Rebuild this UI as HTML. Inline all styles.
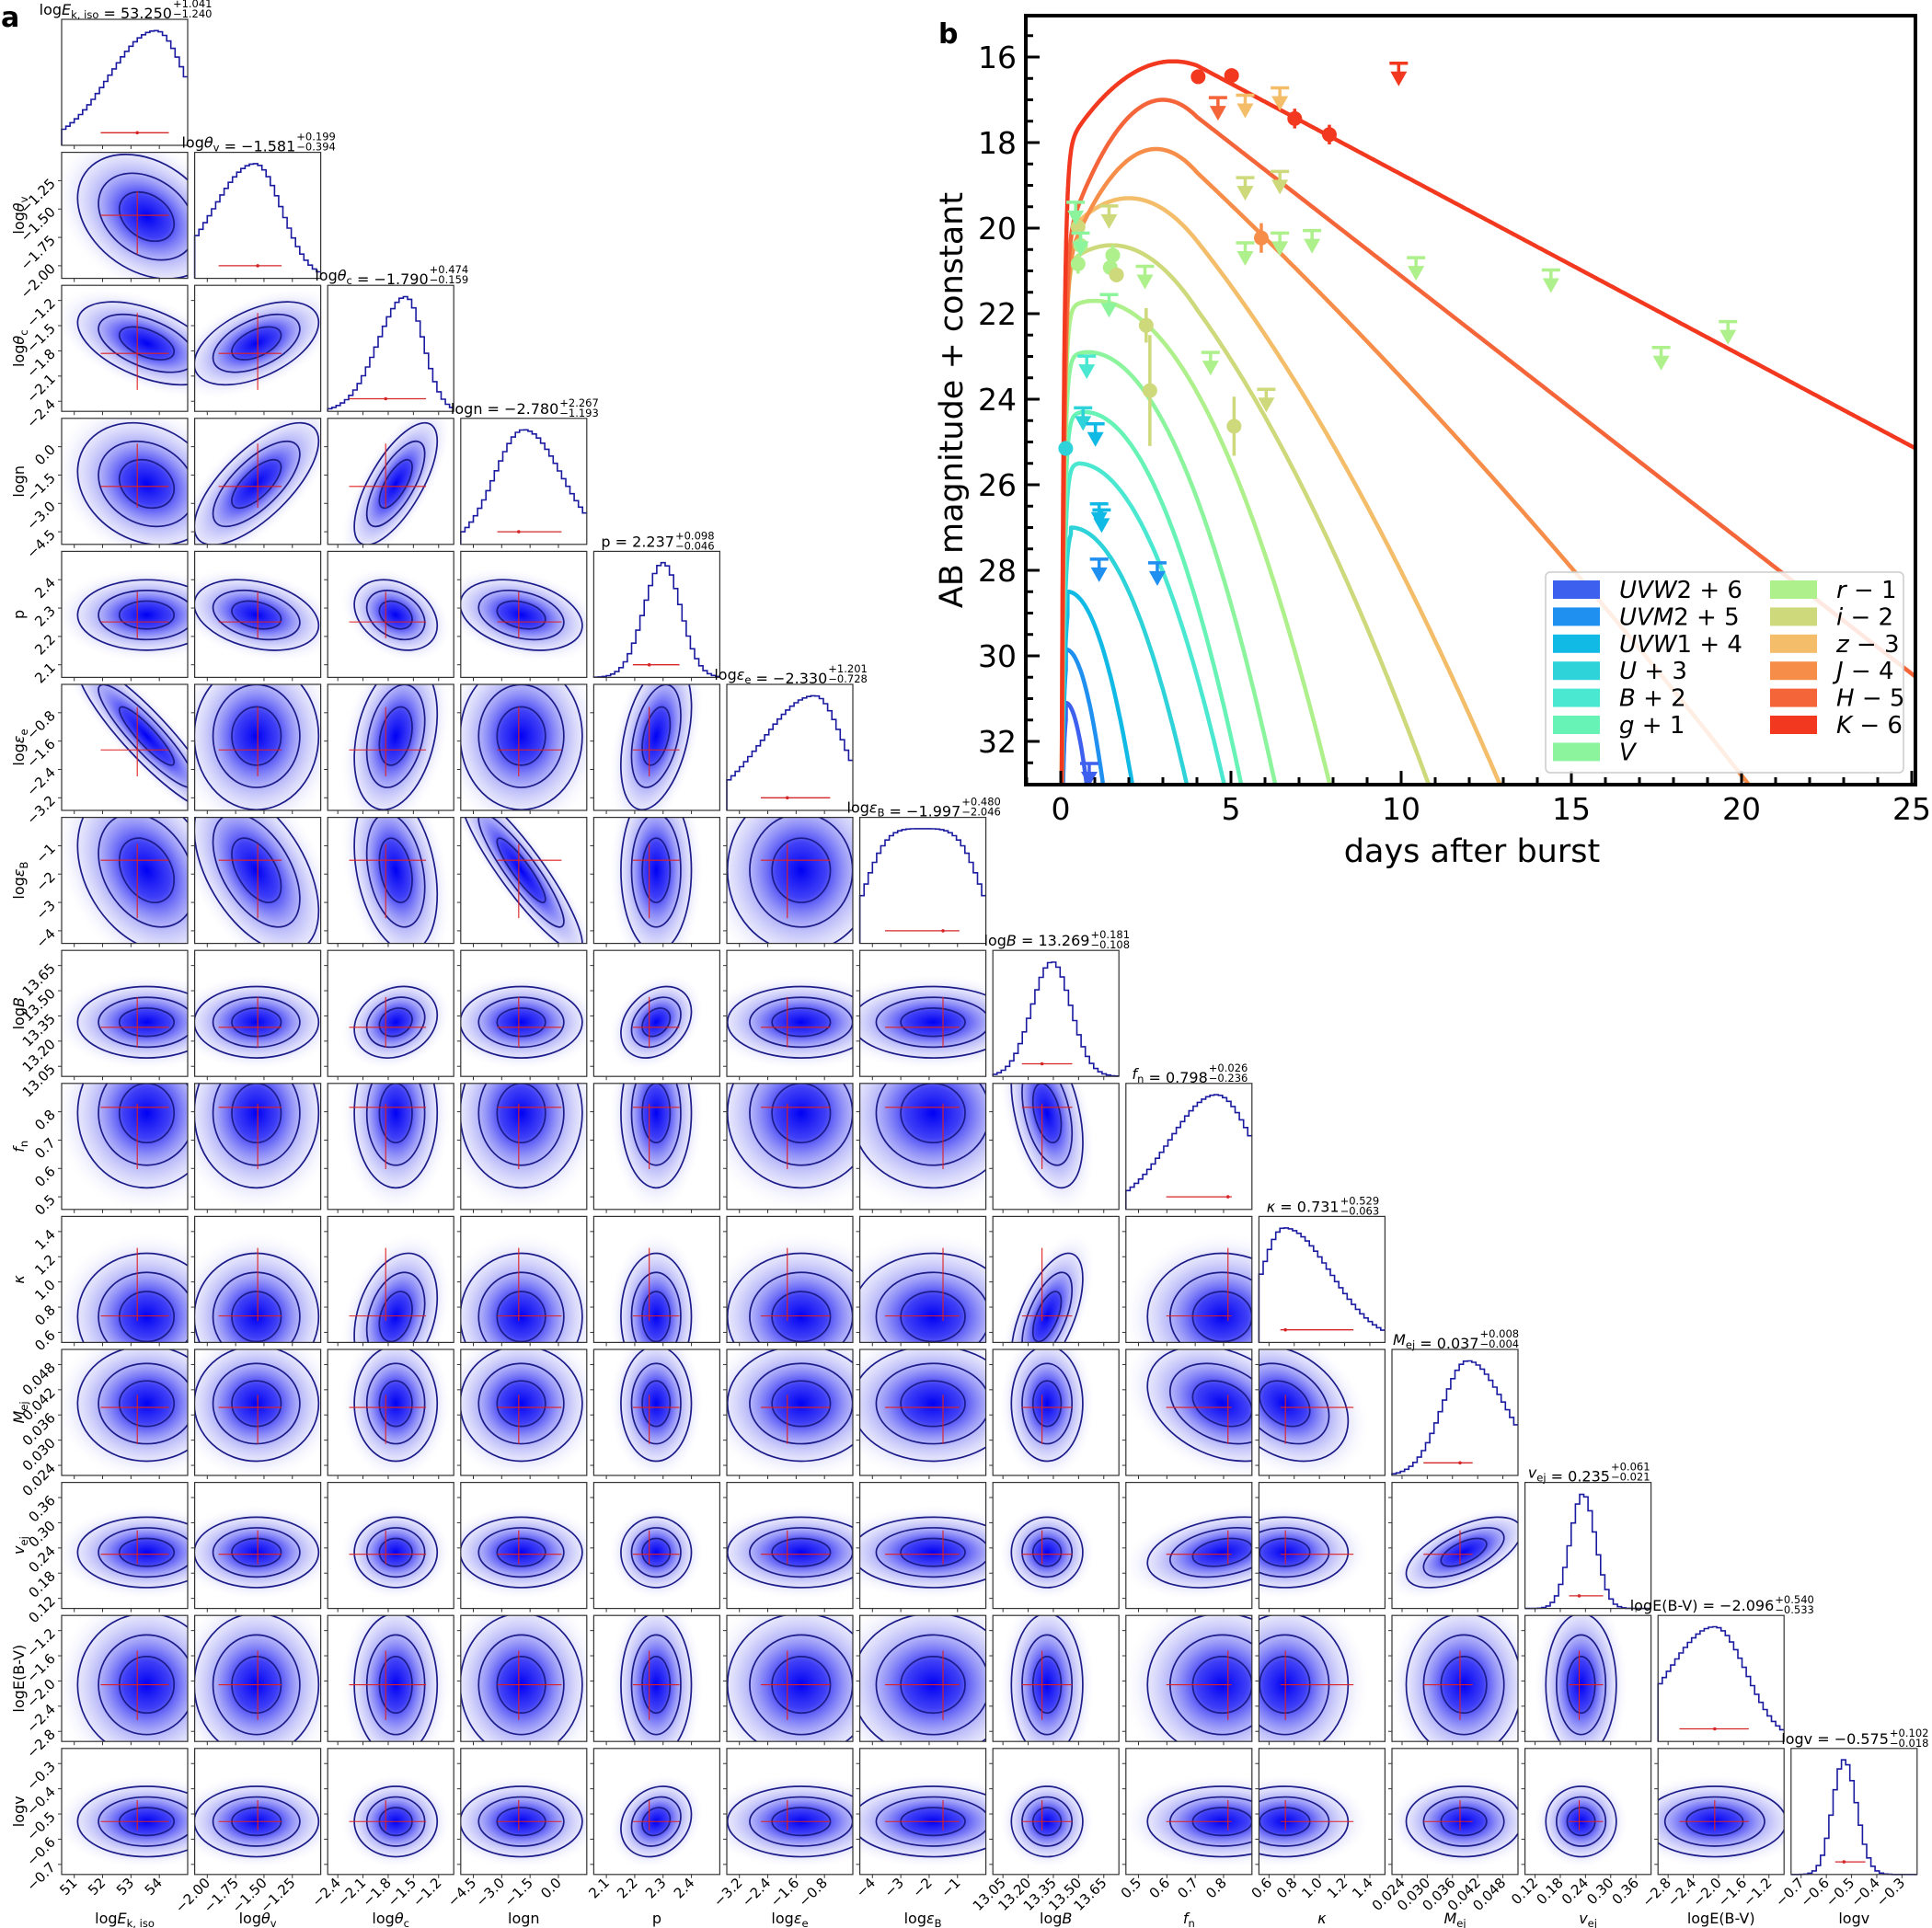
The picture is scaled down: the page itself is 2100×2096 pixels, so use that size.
<!DOCTYPE html>
<html><head><meta charset="utf-8"><style>body{margin:0;background:#fff}svg{display:block}</style></head><body>
<div id="root"></div>
<script>
let o='<defs><radialGradient id="g"><stop offset="0" stop-color="#0000f5" stop-opacity="1"/><stop offset="0.25" stop-color="#2a2af5" stop-opacity="0.9"/><stop offset="0.5" stop-color="#7a7af5" stop-opacity="0.6"/><stop offset="0.75" stop-color="#c0c0f8" stop-opacity="0.35"/><stop offset="1" stop-color="#ffffff" stop-opacity="0"/></radialGradient></defs>';
const L=67,T=21,P=144.6,W=137;
const sub=(t)=>'<tspan dy="4" font-size="0.72em">'+t+'</tspan><tspan dy="-4"></tspan>';
const pars=[
{lab:'log<tspan font-style="italic">E</tspan>'+sub('k, iso'),v:'53.250',p:'+1.041',m:'−1.240',mu:.75,sL:.37,sR:.23,med:.60,lo:.31,hi:.85,t:['51','52','53','54']},
{lab:'log<tspan font-style="italic">θ</tspan>'+sub('v'),v:'−1.581',p:'+0.199',m:'−0.394',mu:.48,sL:.33,sR:.21,med:.5,lo:.19,hi:.69,t:['−2.00','−1.75','−1.50','−1.25']},
{lab:'log<tspan font-style="italic">θ</tspan>'+sub('c'),v:'−1.790',p:'+0.474',m:'−0.159',mu:.62,sL:.22,sR:.14,med:.46,lo:.17,hi:.78,t:['−2.4','−2.1','−1.8','−1.5','−1.2']},
{lab:'logn',v:'−2.780',p:'+2.267',m:'−1.193',mu:.5,sL:.23,sR:.3,med:.46,lo:.29,hi:.8,t:['−4.5','−3.0','−1.5','0.0']},
{lab:'p',v:'2.237',p:'+0.098',m:'−0.046',mu:.55,sL:.15,sR:.14,med:.44,lo:.31,hi:.68,t:['2.1','2.2','2.3','2.4']},
{lab:'log<tspan font-style="italic">ε</tspan>'+sub('e'),v:'−2.330',p:'+1.201',m:'−0.728',mu:.7,sL:.42,sR:.22,med:.48,lo:.27,hi:.82,t:['−3.2','−2.4','−1.6','−0.8']},
{lab:'log<tspan font-style="italic">ε</tspan>'+sub('B'),v:'−1.997',p:'+0.480',m:'−2.046',mu:.5,sL:.42,sR:.42,pw:4,med:.66,lo:.2,hi:.79,t:['−4','−3','−2','−1']},
{lab:'log<tspan font-style="italic">B</tspan>',v:'13.269',p:'+0.181',m:'−0.108',mu:.47,sL:.16,sR:.15,med:.39,lo:.23,hi:.63,t:['13.05','13.20','13.35','13.50','13.65']},
{lab:'<tspan font-style="italic">f</tspan>'+sub('n'),v:'0.798',p:'+0.026',m:'−0.236',mu:.72,sL:.37,sR:.28,med:.81,lo:.32,hi:.84,t:['0.5','0.6','0.7','0.8']},
{lab:'<tspan font-style="italic">κ</tspan>',v:'0.731',p:'+0.529',m:'−0.063',mu:.2,sL:.18,sR:.37,med:.21,lo:.17,hi:.75,t:['0.6','0.8','1.0','1.2','1.4']},
{lab:'<tspan font-style="italic">M</tspan>'+sub('ej'),v:'0.037',p:'+0.008',m:'−0.004',mu:.6,sL:.2,sR:.3,med:.54,lo:.25,hi:.64,t:['0.024','0.030','0.036','0.042','0.048']},
{lab:'<tspan font-style="italic">v</tspan>'+sub('ej'),v:'0.235',p:'+0.061',m:'−0.021',mu:.46,sL:.1,sR:.1,med:.43,lo:.35,hi:.62,t:['0.12','0.18','0.24','0.30','0.36']},
{lab:'logE(B-V)',v:'−2.096',p:'+0.540',m:'−0.533',mu:.45,sL:.37,sR:.25,med:.45,lo:.17,hi:.72,t:['−2.8','−2.4','−2.0','−1.6','−1.2']},
{lab:'logv',v:'−0.575',p:'+0.102',m:'−0.018',mu:.42,sL:.09,sR:.1,med:.42,lo:.35,hi:.59,t:['−0.7','−0.6','−0.5','−0.4','−0.3']}
];
const rho={'1,0':-.3,'2,0':-.5,'2,1':.5,'3,0':-.2,'3,1':.7,'3,2':.7,'4,1':-.3,'4,2':-.3,'4,3':-.3,'5,0':-.9,'5,2':.3,'5,4':.4,'6,0':-.3,'6,1':-.5,'6,2':-.3,'6,3':-.9,'7,2':.2,'7,4':.3,'8,7':-.4,'9,2':.3,'9,7':.6,'10,8':-.3,'10,9':-.3,'11,8':.3,'11,10':.6,'13,4':.2};
function tf(n,k){return n==4?.1+k*.225:.08+k*.2;}
const N=14;
for(let i=0;i<N;i++){
 const y0=T+i*P;
 for(let j=0;j<=i;j++){
  const x0=L+j*P;
  if(i==j){
   const q=pars[i];let d='M'+x0+','+(y0+W);
   for(let k=0;k<30;k++){const xc=(k+.5)/30;const z=(xc-q.mu)/(xc<q.mu?q.sL:q.sR);const h=Math.exp(-.5*Math.pow(Math.abs(z),q.pw||2));const yy=y0+W-0.91*W*h;d+=' V'+yy.toFixed(1)+' H'+(x0+(k+1)/30*W).toFixed(1);}
   o+='<path d="'+d+'" fill="none" stroke="#1a1aa0" stroke-width="1.6"/>';
   const ey=y0+0.9*W;
   o+='<line x1="'+(x0+q.lo*W)+'" y1="'+ey+'" x2="'+(x0+q.hi*W)+'" y2="'+ey+'" stroke="#d62728" stroke-width="1.3"/><circle cx="'+(x0+q.med*W)+'" cy="'+ey+'" r="1.8" fill="#d62728"/>';
   o+='<text id="tt'+i+'" x="'+(x0+W/2)+'" y="'+(y0-5)+'" font-size="16">'+q.lab+' = '+q.v+'</text>';
   o+='<text id="tp'+i+'" x="0" y="'+(y0-13)+'" font-size="11.5">'+q.p+'</text><text id="tm'+i+'" x="0" y="'+(y0-2)+'" font-size="11.5">'+q.m+'</text>';
  } else {
   const a=pars[j],b=pars[i];
   o+='<clipPath id="c'+i+'_'+j+'"><rect x="'+x0+'" y="'+y0+'" width="'+W+'" height="'+W+'"/></clipPath><g clip-path="url(#c'+i+'_'+j+')">';
   const sx=Math.max(.13,Math.min(.3,(a.sL+a.sR)/2*.85))*W, sy=Math.max(.13,Math.min(.3,(b.sL+b.sR)/2*.85))*W;
   const r=rho[i+','+j]||0;
   const A=sx*sx,C=sy*sy,B=-r*sx*sy;
   const th=0.5*Math.atan2(2*B,A-C)*180/Math.PI;
   const m=(A+C)/2,dd=Math.sqrt(((A-C)/2)**2+B*B);
   const rx=Math.sqrt(m+dd),ry=Math.sqrt(Math.max(m-dd,4));
   const cx=x0+(a.mu+a.med)/2*W, cy=y0+(1-(b.mu+b.med)/2)*W;
   o+='<g transform="translate('+cx+','+cy+') rotate('+th+')">';
   o+='<ellipse rx="'+(rx*2.9)+'" ry="'+(ry*2.9)+'" fill="url(#g)"/>';
   for(const k of [0.85,1.5,2.15]) o+='<ellipse rx="'+(rx*k)+'" ry="'+(ry*k)+'" fill="none" stroke="#1c1c8a" stroke-width="1.7"/>';
   o+='</g>';
   const mx=x0+a.med*W,my=y0+(1-b.med)*W;
   o+='<line x1="'+(x0+a.lo*W)+'" y1="'+my+'" x2="'+(x0+a.hi*W)+'" y2="'+my+'" stroke="#e02020" stroke-width="1.1"/>';
   o+='<line x1="'+mx+'" y1="'+(y0+(1-b.hi)*W)+'" x2="'+mx+'" y2="'+(y0+(1-b.lo)*W)+'" stroke="#e02020" stroke-width="1.1"/>';
   o+='</g>';
   b.t.forEach((_,k)=>{const yy=y0+(1-tf(b.t.length,k))*W;o+='<line x1="'+(x0-4)+'" y1="'+yy+'" x2="'+x0+'" y2="'+yy+'" stroke="#333"/>';});
  }
  o+='<rect x="'+x0+'" y="'+y0+'" width="'+W+'" height="'+W+'" fill="none" stroke="#333" stroke-width="1.2"/>';
  const a=pars[j];
  a.t.forEach((_,k)=>{const xx=x0+tf(a.t.length,k)*W;o+='<line x1="'+xx+'" y1="'+(y0+W)+'" x2="'+xx+'" y2="'+(y0+W+4)+'" stroke="#333"/>';});
 }
}
for(let i=1;i<N;i++){const y0=T+i*P,q=pars[i];
 q.t.forEach((t,k)=>{const yy=y0+(1-tf(q.t.length,k))*W;o+='<text transform="translate('+(L-6)+','+(yy+4)+') rotate(-45)" text-anchor="end" font-size="15">'+t+'</text>';});
 o+='<text transform="translate(26,'+(y0+W/2)+') rotate(-90)" text-anchor="middle" font-size="16">'+q.lab+'</text>';
}
const yb=T+13*P+W;
for(let j=0;j<N;j++){const x0=L+j*P,q=pars[j];
 q.t.forEach((t,k)=>{const xx=x0+tf(q.t.length,k)*W;o+='<text transform="translate('+(xx+4)+','+(yb+10)+') rotate(-45)" text-anchor="end" font-size="15">'+t+'</text>';});
 o+='<text x="'+(x0+W/2)+'" y="'+(yb+53)+'" text-anchor="middle" font-size="16">'+q.lab+'</text>';
}
o+='<text x="1" y="29" font-size="30" font-weight="bold">a</text><text x="1020" y="47" font-size="30" font-weight="bold">b</text>';

const X=t=>1153+37*t, Y=m=>62+46.5*(m-16);
const ax0=1115,ay0=17,ax1=2082,ay1=853;
o+='<clipPath id="cb"><rect x="'+ax0+'" y="'+ay0+'" width="'+(ax1-ax0)+'" height="'+(ay1-ay0)+'"/></clipPath><g clip-path="url(#cb)">';
const C={K:'#f2381f',H:'#f5653a',J:'#f68e4a',z:'#f3bd69',i:'#cdd97b',r:'#aef08b',V:'#8df49e',g:'#67f3b5',B:'#4ae8d0',U:'#2dd3d8',W1:'#11b9e5',M2:'#1f8ff0',W2:'#3e60ef'};
function qb(P,tp,tb){return (33-P)/((tb-tp)**2);}
const curves=[
{c:C.W2,P:31.1,tp:.15,b:qb(31.1,.15,.76)},
{c:C.M2,P:29.85,tp:.15,b:qb(29.85,.15,1.24)},
{c:C.W1,P:28.5,tp:.2,b:qb(28.5,.2,2.1)},
{c:C.U,P:27.0,tp:.3,b:qb(27,.3,3.7)},
{c:C.B,P:25.5,tp:.5,b:qb(25.5,.5,4.8)},
{c:C.g,P:24.3,tp:.7,b:qb(24.3,.7,5.3)},
{c:C.V,P:22.9,tp:.8,b:qb(22.9,.8,6.3)},
{c:C.r,P:21.7,tp:1.0,b:qb(21.7,1.0,7.9)},
{c:C.i,P:20.4,tp:1.5,b:.24,tk:4,s:1.1,cc:.078},
{c:C.z,P:19.3,tp:2.0,b:.25,tk:4,s:1.0,cc:.048},
{c:C.J,P:18.15,tp:2.8,b:.38,tk:4,s:.75,cc:.0082},
{c:C.H,P:17.0,tp:3.0,b:.4,tk:4,s:.62,cc:0},
{c:C.K,P:16.1,tp:3.3,b:.2,tk:4,s:.424,cc:0}
];
for(const c of curves){
 let d='';
 const tau=Math.min(0.07,c.tp*0.35);
 for(let t=0;t<=25.5;t+=(t<0.4?0.004:0.03)){
  let m;
  if(t<=c.tp) m=c.P+c.b*(t-c.tp)**2+(38-c.P)*Math.exp(-t/tau);
  else if(!c.tk||t<=c.tk) m=c.P+c.b*(t-c.tp)**2;
  else {const mk=c.P+c.b*(c.tk-c.tp)**2;m=mk+c.s*(t-c.tk)+c.cc*(t-c.tk)**2;}
  if(m>36){ if(t>c.tp) {d+=(d?'L':'M')+X(t).toFixed(1)+','+Y(36).toFixed(1);break;} else m=36;}
  d+=(d?'L':'M')+X(t).toFixed(1)+','+Y(m).toFixed(1);
 }
 o+='<path d="'+d+'" fill="none" stroke="'+c.c+'" stroke-width="4.5" stroke-linejoin="round"/>';
}
const DX=xd=>1153+1.3455*(xd-866), DY=yd=>62+1.338*(yd-47);
const circ=[[977,63,0,C.K],[1004,62,0,C.K],[1055,97,8,C.K],[1083,110,8,C.K],[1028,194,12,C.J],[935,265,14,C.i],[938,318,45,C.i],[1006,347,24,C.i],[880,185,6,C.i],[882,200,8,C.r],[880,215,8,C.r],[908,208,8,C.r],[906,218,6,C.r],[911,224,6,C.i],[870,365,6,C.U]];
for(const [x,y,e,c] of circ){const X0=DX(x),Y0=DY(y);if(e)o+='<line x1="'+X0+'" y1="'+(Y0-e*1.34)+'" x2="'+X0+'" y2="'+(Y0+e*1.34)+'" stroke="'+c+'" stroke-width="3.5"/>';o+='<circle cx="'+X0+'" cy="'+Y0+'" r="8" fill="'+c+'"/>';}
const arr=[[993,80,C.H],[1015,78,C.z],[1043,72,C.z],[1139,52,C.K],[1015,145,C.i],[1043,140,C.i],[1015,198,C.r],[1043,190,C.r],[1069,188,C.r],[1153,210,C.r],[1262,220,C.r],[1351,283,C.r],[1405,262,C.r],[905,168,C.i],[878,165,C.V],[882,190,C.V],[934,217,C.r],[905,240,C.V],[987,287,C.r],[1032,317,C.i],[887,290,C.B],[884,332,C.U],[894,345,C.W1],[897,410,C.W1],[899,415,C.W1],[897,455,C.M2],[944,458,C.M2],[889,621,C.W2]];
for(const [x,y,c] of arr){const X0=DX(x),Y0=DY(y);o+='<line x1="'+(X0-10)+'" y1="'+Y0+'" x2="'+(X0+10)+'" y2="'+Y0+'" stroke="'+c+'" stroke-width="3.5"/><line x1="'+X0+'" y1="'+Y0+'" x2="'+X0+'" y2="'+(Y0+12)+'" stroke="'+c+'" stroke-width="3.5"/><path d="M'+(X0-9)+','+(Y0+9)+' L'+(X0+9)+','+(Y0+9)+' L'+X0+','+(Y0+25)+' Z" fill="'+c+'"/>';}
o+='</g>';
o+='<rect x="'+ax0+'" y="'+ay0+'" width="'+(ax1-ax0)+'" height="'+(ay1-ay0)+'" fill="none" stroke="#000" stroke-width="4"/>';
for(let m=15.5;m<=33;m+=0.5){const yy=Y(m);const maj=Math.abs(m/2-Math.round(m/2))<1e-6;o+='<line x1="'+ax0+'" y1="'+yy+'" x2="'+(ax0+(maj?15:8))+'" y2="'+yy+'" stroke="#000" stroke-width="3"/>';if(maj&&m>=16&&m<=32)o+='<text x="1105" y="'+(yy+12)+'" text-anchor="end" font-size="33">'+m+'</text>';}
for(let t=-1;t<=25;t++){const xx=X(t);if(xx<ax0)continue;const maj=t%5==0;o+='<line x1="'+xx+'" y1="'+ay1+'" x2="'+xx+'" y2="'+(ay1-(maj?15:8))+'" stroke="#000" stroke-width="3"/>';if(maj)o+='<text x="'+xx+'" y="'+(ay1+38)+'" text-anchor="middle" font-size="33">'+t+'</text>';}
o+='<text x="1600" y="937" text-anchor="middle" font-size="35">days after burst</text>';
o+='<text transform="translate(1046,435) rotate(-90)" text-anchor="middle" font-size="35">AB magnitude + constant</text>';
o+='<rect x="1680" y="622" width="389" height="218" rx="5" fill="#fff" fill-opacity="0.85" stroke="#ccc" stroke-width="1.5"/>';
const leg1=[[C.W2,'<tspan font-style="italic">UVW</tspan>2 + 6'],[C.M2,'<tspan font-style="italic">UVM</tspan>2 + 5'],[C.W1,'<tspan font-style="italic">UVW</tspan>1 + 4'],[C.U,'<tspan font-style="italic">U</tspan> + 3'],[C.B,'<tspan font-style="italic">B</tspan> + 2'],[C.g,'<tspan font-style="italic">g</tspan> + 1'],[C.V,'<tspan font-style="italic">V</tspan>']];
const leg2=[[C.r,'<tspan font-style="italic">r</tspan> − 1'],[C.i,'<tspan font-style="italic">i</tspan> − 2'],[C.z,'<tspan font-style="italic">z</tspan> − 3'],[C.J,'<tspan font-style="italic">J</tspan> − 4'],[C.H,'<tspan font-style="italic">H</tspan> − 5'],[C.K,'<tspan font-style="italic">K</tspan> − 6']];
leg1.forEach(([c,t],k)=>{const yy=641+29.4*k;o+='<rect x="1688" y="'+(yy-10)+'" width="51" height="20" fill="'+c+'"/><text x="1760" y="'+(yy+9)+'" font-size="26">'+t+'</text>';});
leg2.forEach(([c,t],k)=>{const yy=641+29.4*k;o+='<rect x="1924" y="'+(yy-10)+'" width="51" height="20" fill="'+c+'"/><text x="1996" y="'+(yy+9)+'" font-size="26">'+t+'</text>';});
document.getElementById('root').innerHTML='<svg id="s" width="2100" height="2096" xmlns="http://www.w3.org/2000/svg" font-family="\'DejaVu Sans\',\'Liberation Sans\',sans-serif">'+o+'</svg>';
for(let i=0;i<N;i++){
 const el=document.getElementById('tt'+i);let w=0;try{w=el.getComputedTextLength();}catch(e){}
 if(!w) w=150;
 const q=pars[i];const ws=q.p.length*6.9;const x0=L+i*P+W/2-(w+ws)/2;
 el.setAttribute('x',x0);
 document.getElementById('tp'+i).setAttribute('x',x0+w+1);
 document.getElementById('tm'+i).setAttribute('x',x0+w+1);
}
</script>
</body></html>
